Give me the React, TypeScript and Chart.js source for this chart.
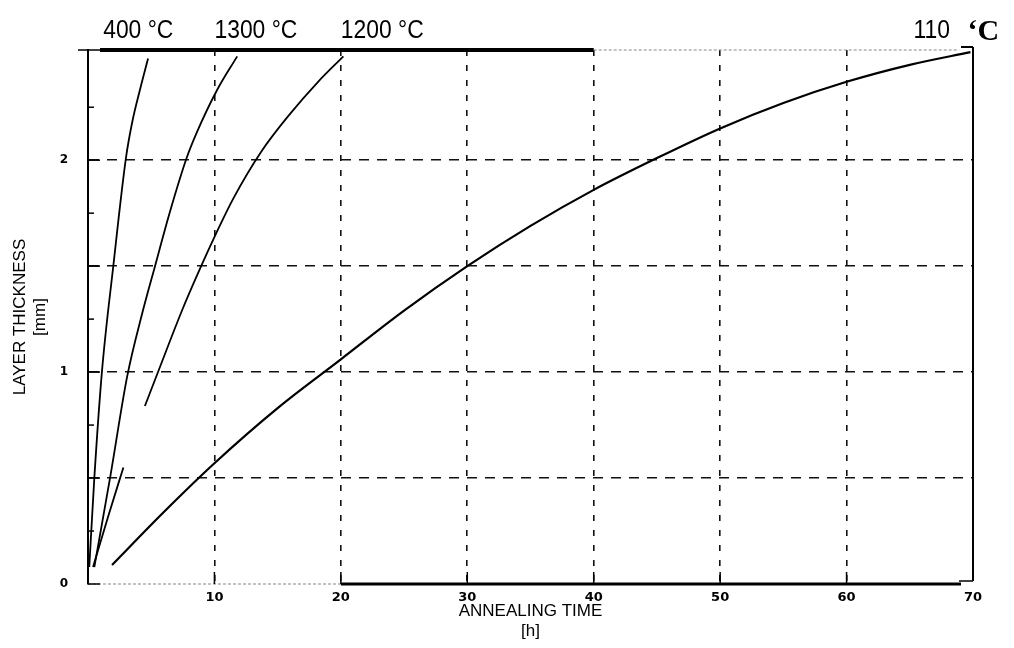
import React, { useEffect, useRef } from "react";
import { Chart, registerables } from "chart.js";

Chart.register(...registerables);

// Annealing time [h] and layer thickness [mm]
const t1400 = [0.1, 0.5, 1.1, 2.0, 3.0, 3.5, 4.1, 4.75];
const d1400 = [0.08, 0.5, 1.0, 1.5, 2.01, 2.18, 2.33, 2.48];

const t1300 = [0.5, 1.8, 3.1, 4.3, 5.3, 6.5, 7.8, 8.6, 10.2, 11.8];
const d1300 = [0.08, 0.52, 0.98, 1.28, 1.5, 1.76, 2.01, 2.13, 2.33, 2.49];

const t1200 = [0.4, 1.6, 2.8, 3.6, 4.5, 5.6, 7.5, 9.1, 10.1, 11.5, 13.7, 16.0, 18.2, 20.2];
const d1200 = [0.08, 0.32, 0.55, null, 0.84, 1.01, 1.3, 1.52, 1.65, 1.82, 2.04, 2.22, 2.37, 2.49];

const t1100 = [1.9, 6.0, 10.0, 15.0, 20.0, 25.0, 30.0, 35.0, 40.0, 45.0, 50.0, 55.0, 60.0, 65.0, 69.8];
const d1100 = [0.09, 0.34, 0.57, 0.83, 1.06, 1.29, 1.5, 1.69, 1.86, 2.01, 2.15, 2.27, 2.37, 2.45, 2.51];

const timeGrid = [10, 20, 30, 40, 50, 60];
const thicknessGrid = [0.5, 1, 1.5, 2];
const thicknessLabels = [0, 1, 2];

const curveLabels = ["400 °C", "1300 °C", "1200 °C", "110"];
const curveLabelAnchors = [1.2, 10, 20, 65.3];

const toPoints = (xs: number[], ys: (number | null)[]) => xs.map((x, i) => ({ x, y: ys[i] }));

const framePlugin = {
  id: "frame",
  afterDatasetsDraw(chart: any) {
    const { ctx, chartArea: a, scales } = chart;
    const xs = scales.x;
    const ys = scales.y;
    ctx.save();
    ctx.strokeStyle = "#000";
    ctx.setLineDash([]);
    // top border: thick part then faint dotted part
    ctx.lineWidth = 4;
    ctx.beginPath();
    ctx.moveTo(a.left + 12, a.top);
    ctx.lineTo(xs.getPixelForValue(40), a.top);
    ctx.stroke();
    ctx.lineWidth = 1;
    ctx.strokeStyle = "#888";
    ctx.setLineDash([3, 2]);
    ctx.beginPath();
    ctx.moveTo(xs.getPixelForValue(40), a.top);
    ctx.lineTo(a.right - 14, a.top);
    ctx.stroke();
    ctx.beginPath();
    ctx.moveTo(a.left, a.bottom);
    ctx.lineTo(xs.getPixelForValue(20), a.bottom);
    ctx.stroke();
    ctx.setLineDash([]);
    ctx.strokeStyle = "#000";
    ctx.lineWidth = 1.5;
    ctx.beginPath();
    ctx.moveTo(a.left - 10, a.top);
    ctx.lineTo(a.left + 12, a.top);
    ctx.stroke();
    // bottom border right part
    ctx.lineWidth = 3;
    ctx.beginPath();
    ctx.moveTo(xs.getPixelForValue(20), a.bottom);
    ctx.lineTo(a.right - 12, a.bottom);
    ctx.stroke();
    ctx.lineWidth = 1.5;
    ctx.beginPath();
    ctx.moveTo(a.right - 14, a.bottom - 3);
    ctx.lineTo(a.right, a.bottom - 3);
    ctx.stroke();
    // right border
    ctx.lineWidth = 2;
    ctx.beginPath();
    ctx.moveTo(a.right - 12, a.top - 3);
    ctx.lineTo(a.right, a.top - 3);
    ctx.moveTo(a.right, a.top - 3);
    ctx.lineTo(a.right, a.bottom - 3);
    ctx.stroke();
    // inward ticks on the left axis
    ctx.lineWidth = 1.5;
    for (const t of ys.ticks) {
      if (t.value > 2.5) continue;
      const py = ys.getPixelForValue(t.value);
      const major = Math.abs(t.value * 2 - Math.round(t.value * 2)) < 1e-6;
      ctx.beginPath();
      ctx.moveTo(a.left, py);
      ctx.lineTo(a.left + (major ? 12 : 6), py);
      ctx.stroke();
    }
    // upward ticks on x axis
    for (const v of timeGrid) {
      const px = xs.getPixelForValue(v);
      ctx.beginPath();
      ctx.moveTo(px, a.bottom);
      ctx.lineTo(px, a.bottom - 12);
      ctx.stroke();
    }
    // curve labels along the top
    ctx.fillStyle = "#000";
    ctx.textBaseline = "alphabetic";
    ctx.textAlign = "left";
    ctx.font = "26px 'Liberation Sans', sans-serif";
    curveLabels.forEach((txt, i) => {
      const px = xs.getPixelForValue(curveLabelAnchors[i]);
      ctx.save();
      ctx.translate(px, a.top - 12);
      ctx.scale(0.88, 1);
      ctx.fillText(txt, 0, 0);
      ctx.restore();
    });
    ctx.font = "bold 30px 'Liberation Serif', serif";
    ctx.fillText("‘C", xs.getPixelForValue(65.3) + 54, a.top - 10);
    ctx.restore();
  },
};

export default function App() {
  const canvasRef = useRef<HTMLCanvasElement | null>(null);

  useEffect(() => {
    const canvas = canvasRef.current;
    if (!canvas) return;
    const line = (data: any[]) => ({
      data,
      borderColor: "#000",
      borderWidth: 1.8,
      pointRadius: 0,
      fill: false,
      cubicInterpolationMode: "monotone" as const,
      spanGaps: false,
    });
    const chart = new Chart(canvas, {
      type: "line",
      data: {
        datasets: [
          { label: "1400 °C", ...line(toPoints(t1400, d1400)) },
          { label: "1300 °C", ...line(toPoints(t1300, d1300)) },
          { label: "1200 °C", ...line(toPoints(t1200, d1200)) },
          { label: "1100 °C", ...line(toPoints(t1100, d1100)), borderWidth: 2.2 },
        ],
      },
      options: {
        animation: false,
        responsive: false,
        devicePixelRatio: 1,
        layout: { padding: { top: 50, right: 41, left: 0, bottom: 0 } },
        plugins: { legend: { display: false }, tooltip: { enabled: false } },
        scales: {
          x: {
            type: "linear",
            min: 0,
            max: 70,
            afterFit: (s: any) => {
              s.height = 64;
            },
            ticks: {
              stepSize: 10,
              padding: 6,
              color: "#000",
              font: { family: "'DejaVu Sans', sans-serif", size: 13, weight: "bold" },
              callback: (v: any) => (timeGrid.includes(v) || v === 70 ? String(v) : ""),
              maxRotation: 0,
              autoSkip: false,
            },
            grid: {
              drawTicks: false,
              lineWidth: 1.6,
              color: (c: any) => (timeGrid.includes(c.tick?.value) ? "#111" : "rgba(0,0,0,0)"),
            },
            border: { display: false, dash: [6, 9] },
            title: {
              display: true,
              text: ["ANNEALING TIME", "[h]"],
              color: "#000",
              font: { family: "'Liberation Sans', sans-serif", size: 17 },
              padding: { top: 0, bottom: 6 },
            },
          },
          y: {
            type: "linear",
            min: 0,
            max: 2.52,
            afterFit: (s: any) => {
              s.width = 88;
            },
            ticks: {
              stepSize: 0.25,
              padding: 20,
              color: "#000",
              font: { family: "'DejaVu Sans', sans-serif", size: 12, weight: "bold" },
              callback: (v: any) => (thicknessLabels.includes(v) ? String(v) : ""),
              autoSkip: false,
            },
            grid: {
              drawTicks: false,
              lineWidth: 1.4,
              color: (c: any) => (thicknessGrid.includes(c.tick?.value) ? "#111" : "rgba(0,0,0,0)"),
            },
            border: { display: true, color: "#000", width: 2, dash: [10, 8] },
            title: {
              display: true,
              text: ["LAYER THICKNESS", "[mm]"],
              color: "#000",
              font: { family: "'Liberation Sans', sans-serif", size: 17 },
              padding: { top: 10, bottom: 0 },
            },
          },
        },
      },
      plugins: [framePlugin],
    });
    return () => chart.destroy();
  }, []);

  return (
    <div style={{ position: "absolute", left: 0, top: 0, width: 1014, height: 648, background: "#fff" }}>
      <canvas ref={canvasRef} width={1014} height={648} style={{ display: "block" }} />
    </div>
  );
}
